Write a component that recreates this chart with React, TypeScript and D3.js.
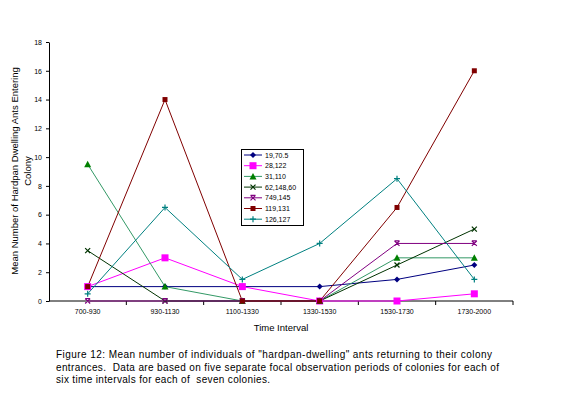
import React, { useEffect, useRef } from "react";
import * as d3 from "d3";

const categories = ["700-930", "930-1130", "1100-1330", "1330-1530", "1530-1730", "1730-2000"];
const seriesNames = ["19,70.5", "28,122", "31,110", "62,148,60", "749,145", "119,131", "126,127"];
const s19 = [1, 1, 1, 1, 1.5, 2.5];
const s28 = [1, 3, 1, 0, 0, 0.5];
const s31 = [9.5, 1, 0, 0, 3, 3];
const s62 = [3.5, 0, 0, 0, 2.5, 5];
const s749 = [0, 0, 0, 0, 4, 4];
const s119 = [1, 14, 0, 0, 6.5, 16];
const s126 = [0.5, 6.5, 1.5, 4, 8.5, 1.5];
const yTicks = [0, 2, 4, 6, 8, 10, 12, 14, 16, 18];

const lineColors = ["#000080", "#ff00ff", "#339966", "#003300", "#800080", "#800000", "#008080"];
const markerColors = ["#000080", "#ff00ff", "#008000", "#003300", "#800080", "#800000", "#008080"];
const markerTypes = ["diamond", "square", "triangle", "x", "star", "smallsquare", "plus"];

const FONT = "Arial, 'Liberation Sans', sans-serif";

function drawMarker(g, type, x, y, color) {
  if (type === "diamond") {
    g.append("path").attr("d", `M${x},${y - 3}L${x + 3},${y}L${x},${y + 3}L${x - 3},${y}Z`).attr("fill", color);
  } else if (type === "square") {
    g.append("rect").attr("x", x - 3.5).attr("y", y - 3.5).attr("width", 7).attr("height", 7).attr("fill", color);
  } else if (type === "smallsquare") {
    g.append("rect").attr("x", x - 2.5).attr("y", y - 2.5).attr("width", 5).attr("height", 5).attr("fill", color);
  } else if (type === "triangle") {
    g.append("path").attr("d", `M${x},${y - 3.5}L${x + 3.5},${y + 3}L${x - 3.5},${y + 3}Z`).attr("fill", color);
  } else if (type === "x") {
    g.append("path").attr("d", `M${x - 2.5},${y - 2.5}L${x + 2.5},${y + 2.5}M${x - 2.5},${y + 2.5}L${x + 2.5},${y - 2.5}`)
      .attr("stroke", color).attr("stroke-width", 1.2);
  } else if (type === "star") {
    g.append("path").attr("d", `M${x - 2.5},${y - 2.5}L${x + 2.5},${y + 2.5}M${x - 2.5},${y + 2.5}L${x + 2.5},${y - 2.5}M${x - 2.5},${y - 2.5}L${x + 2.5},${y - 2.5}`)
      .attr("stroke", color).attr("stroke-width", 1.2);
  } else if (type === "plus") {
    g.append("path").attr("d", `M${x - 3},${y}L${x + 3},${y}M${x},${y - 3}L${x},${y + 3}`)
      .attr("stroke", color).attr("stroke-width", 1.2);
  }
}

function Chart() {
  const ref = useRef(null);

  useEffect(() => {
    const svg = d3.select(ref.current);
    svg.selectAll("*").remove();
    const allSeries = [s19, s28, s31, s62, s749, s119, s126];

    // scales
    const x = d3.scalePoint().domain(categories).range([49, 513]).padding(0.5);
    const y = d3.scaleLinear().domain([0, 18]).range([301, 42]);
    const step = x.step();

    // y axis
    const yAxis = svg.append("g").attr("transform", "translate(49,0)")
      .call(d3.axisLeft(y).tickValues(yTicks).tickSize(3).tickSizeOuter(0));
    yAxis.select(".domain").attr("stroke", "#000");
    yAxis.selectAll("text").attr("font-size", 7).attr("font-family", FONT).attr("dx", -1);

    // x axis
    const xAxis = svg.append("g").attr("transform", "translate(0,301)");
    xAxis.append("line").attr("x1", 49).attr("x2", 513).attr("stroke", "#000");
    xAxis.selectAll(".tk").data(categories).join("line")
      .attr("x1", (d) => x(d) + step / 2).attr("x2", (d) => x(d) + step / 2)
      .attr("y1", 0).attr("y2", 4).attr("stroke", "#000");
    xAxis.selectAll(".lbl").data(categories).join("text")
      .attr("x", (d) => x(d)).attr("y", 13).attr("text-anchor", "middle")
      .attr("font-size", 7).attr("font-family", FONT).text((d) => d);

    // lines + markers
    const line = d3.line().x((d, i) => x(categories[i])).y((d) => y(d));
    allSeries.forEach((data, si) => {
      svg.append("path").datum(data).attr("d", line).attr("fill", "none")
        .attr("stroke", lineColors[si]).attr("stroke-width", 1);
    });
    allSeries.forEach((data, si) => {
      const g = svg.append("g");
      data.forEach((v, i) => drawMarker(g, markerTypes[si], x(categories[i]), y(v), markerColors[si]));
    });

    // legend
    const lg = svg.append("g");
    lg.append("rect").attr("x", 241.5).attr("y", 149.5).attr("width", 62).attr("height", 76)
      .attr("fill", "#fff").attr("stroke", "#000");
    seriesNames.forEach((name, i) => {
      const ly = 155 + i * 10.7;
      lg.append("line").attr("x1", 244).attr("x2", 262).attr("y1", ly).attr("y2", ly)
        .attr("stroke", lineColors[i]);
      drawMarker(lg, markerTypes[i], 253, ly, markerColors[i]);
      lg.append("text").attr("x", 265).attr("y", ly + 2.5).attr("font-size", 7)
        .attr("font-family", FONT).text(name);
    });

    // axis titles
    svg.append("text").attr("x", 281).attr("y", 331).attr("text-anchor", "middle")
      .attr("font-size", 9.5).attr("font-family", FONT).text("Time Interval");
    const yt = svg.append("g").attr("transform", "translate(18,171) rotate(-90)");
    yt.append("text").attr("x", 0).attr("y", 0).attr("text-anchor", "middle")
      .attr("font-size", 9.5).attr("font-family", FONT).text("Mean Number of Hardpan Dwelling Ants Entering");
    yt.append("text").attr("x", 0).attr("y", 13).attr("text-anchor", "middle")
      .attr("font-size", 9.5).attr("font-family", FONT).text("Colony");

    // caption
    const caption = [
      "Figure 12: Mean number of individuals of \"hardpan-dwelling\" ants returning to their colony",
      "entrances.  Data are based on five separate focal observation periods of colonies for each of",
      "six time intervals for each of  seven colonies.",
    ];
    const captionWidths = [436, 443, 214];
    caption.forEach((t, i) => {
      svg.append("text").attr("x", 56).attr("y", 358 + i * 12.5).attr("font-size", 10)
        .attr("font-family", FONT).attr("textLength", captionWidths[i])
        .attr("lengthAdjust", "spacing").style("white-space", "pre").text(t);
    });
  }, []);

  return <svg ref={ref} width={576} height={393} style={{ display: "block", background: "#fff" }} />;
}

export default function App() {
  return (
    <div style={{ position: "absolute", left: 0, top: 0 }}>
      <Chart />
    </div>
  );
}
